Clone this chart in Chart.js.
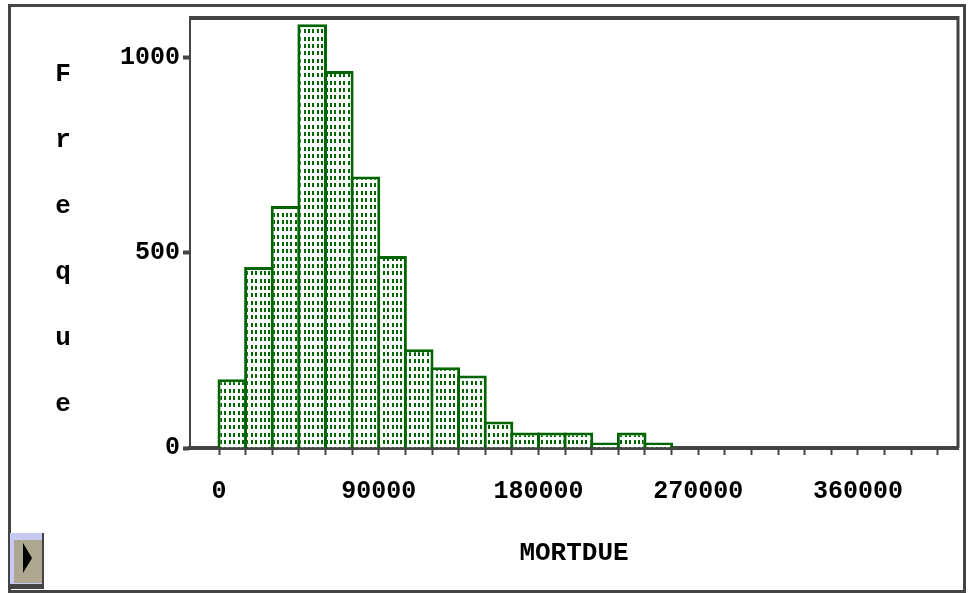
<!DOCTYPE html>
<html lang="en">
<head>
    <meta charset="UTF-8">
    <title>MORTDUE histogram</title>
    <style>
        * {
            margin: 0;
            padding: 0;
            box-sizing: border-box;
        }

        body {
            background: #fff;
            width: 968px;
            height: 593px;
            overflow: hidden;
            position: relative;
            font-family: 'Liberation Mono', monospace;
        }

        /* outer window frame */
        .frame {
            position: absolute;
            left: 8px;
            top: 4px;
            width: 958px;
            height: 589px;
            border: 3px solid #444;
        }

        #chart {
            position: absolute;
            left: 0;
            top: 0;
        }

        /* stacked y title */
        .ytitle {
            position: absolute;
            left: 50px;
            top: 41px;
            width: 26px;
            text-align: center;
            font-weight: bold;
            font-size: 26px;
            line-height: 66px;
            color: #000;
        }

        /* little play button bottom left */
        .btn {
            position: absolute;
            left: 10px;
            top: 533px;
            width: 34px;
            height: 56px;
            background: #c8c8f4;
            border-right: 2px solid #444;
            border-bottom: 5px solid #444;
        }

        .btn-inner {
            position: absolute;
            left: 4px;
            top: 7px;
            width: 28px;
            height: 43px;
            background: #aea78f;
        }

        .btn-arrow {
            position: absolute;
            left: 9px;
            top: 3px;
            width: 0;
            height: 0;
            border-left: 9px solid #000;
            border-top: 15px solid transparent;
            border-bottom: 15px solid transparent;
        }
    </style>
</head>
<body>
    <div class="frame"></div>
    <canvas id="chart" width="968" height="593"></canvas>
    <div class="ytitle">F<br>r<br>e<br>q<br>u<br>e</div>
    <div class="btn"><div class="btn-inner"><div class="btn-arrow"></div></div></div>

    <script src="https://cdn.jsdelivr.net/npm/chart.js"></script>
    <script>
        // histogram data
        const binWidth = 15000;
        const binStarts = [0, 15000, 30000, 45000, 60000, 75000, 90000, 105000, 120000,
            135000, 150000, 165000, 180000, 195000, 210000, 225000, 240000];
        const counts = [176, 464, 620, 1086, 966, 696, 492, 253, 207,
            186, 68, 40, 40, 40, 14, 40, 14];
        const yTicks = [0, 500, 1000];
        const xTickStep = 15000;
        const xTickMax = 405000;
        const xLabelStep = 90000;

        const green = '#006400';
        const axisGray = '#444';
        const tickFont = { family: 'Liberation Mono', size: 25, weight: 'bold' };

        // dotted fill like the old stat package
        function makePattern() {
            const c = document.createElement('canvas');
            c.width = 22;
            c.height = 22;
            const g = c.getContext('2d');
            g.fillStyle = '#fff';
            g.fillRect(0, 0, 22, 22);
            g.fillStyle = green;
            for (let i = 0; i < 5; i++) {
                for (let j = 0; j < 3; j++) {
                    g.fillRect(Math.round(i * 4.4), Math.round(j * 7.33), 2, 4);
                }
            }
            return g.createPattern(c, 'repeat');
        }

        const points = binStarts.map((s, i) => ({ x: s + binWidth / 2, y: counts[i] }));

        // top + right border of the plot box
        const boxPlugin = {
            id: 'box',
            afterDraw(chart) {
                const { ctx, chartArea: a } = chart;
                ctx.save();
                ctx.strokeStyle = axisGray;
                ctx.lineWidth = 4;
                ctx.beginPath();
                ctx.moveTo(a.left - 1, a.top);
                ctx.lineTo(a.right, a.top);
                ctx.stroke();
                ctx.lineWidth = 3;
                ctx.beginPath();
                ctx.moveTo(a.right, a.top - 2);
                ctx.lineTo(a.right, a.bottom);
                ctx.stroke();
                ctx.restore();
            }
        };

        const ctx = document.getElementById('chart').getContext('2d');
        new Chart(ctx, {
            type: 'bar',
            data: {
                datasets: [{
                    data: points,
                    backgroundColor: makePattern(),
                    borderColor: green,
                    borderWidth: 3,
                    barPercentage: 1.113,
                    categoryPercentage: 1
                }]
            },
            options: {
                responsive: false,
                animation: false,
                events: [],
                layout: { padding: { left: 0, top: 16, right: 10, bottom: 0 } },
                plugins: {
                    legend: { display: false },
                    tooltip: { enabled: false }
                },
                scales: {
                    x: {
                        type: 'linear',
                        min: -16340,
                        max: 416340,
                        offset: false,
                        z: 1,
                        afterFit: s => { s.height = 145; },
                        afterBuildTicks: s => {
                            const t = [];
                            for (let v = 0; v <= xTickMax; v += xTickStep) t.push({ value: v });
                            s.ticks = t;
                        },
                        grid: {
                            display: true,
                            drawOnChartArea: false,
                            drawTicks: true,
                            tickLength: 7,
                            tickWidth: 2,
                            tickColor: axisGray,
                            offset: false
                        },
                        border: { display: true, color: axisGray, width: 4 },
                        ticks: {
                            autoSkip: false,
                            maxRotation: 0,
                            padding: 22,
                            color: '#000',
                            font: tickFont,
                            callback: v => (v % xLabelStep === 0 ? String(v) : '')
                        },
                        title: {
                            display: true,
                            text: 'MORTDUE',
                            color: '#000',
                            font: { family: 'Liberation Mono', size: 26, weight: 'bold' },
                            padding: { top: 0, bottom: 24 }
                        }
                    },
                    y: {
                        min: 0,
                        max: 1102,
                        afterFit: s => { s.width = 190; },
                        afterBuildTicks: s => { s.ticks = yTicks.map(v => ({ value: v })); },
                        grid: {
                            display: true,
                            drawOnChartArea: false,
                            drawTicks: true,
                            tickLength: 7,
                            tickWidth: 4,
                            tickColor: axisGray
                        },
                        border: { display: true, color: axisGray, width: 2 },
                        ticks: {
                            padding: 3,
                            color: '#000',
                            font: tickFont,
                            callback: v => String(v)
                        }
                    }
                }
            },
            plugins: [boxPlugin]
        });
    </script>
</body>
</html>
